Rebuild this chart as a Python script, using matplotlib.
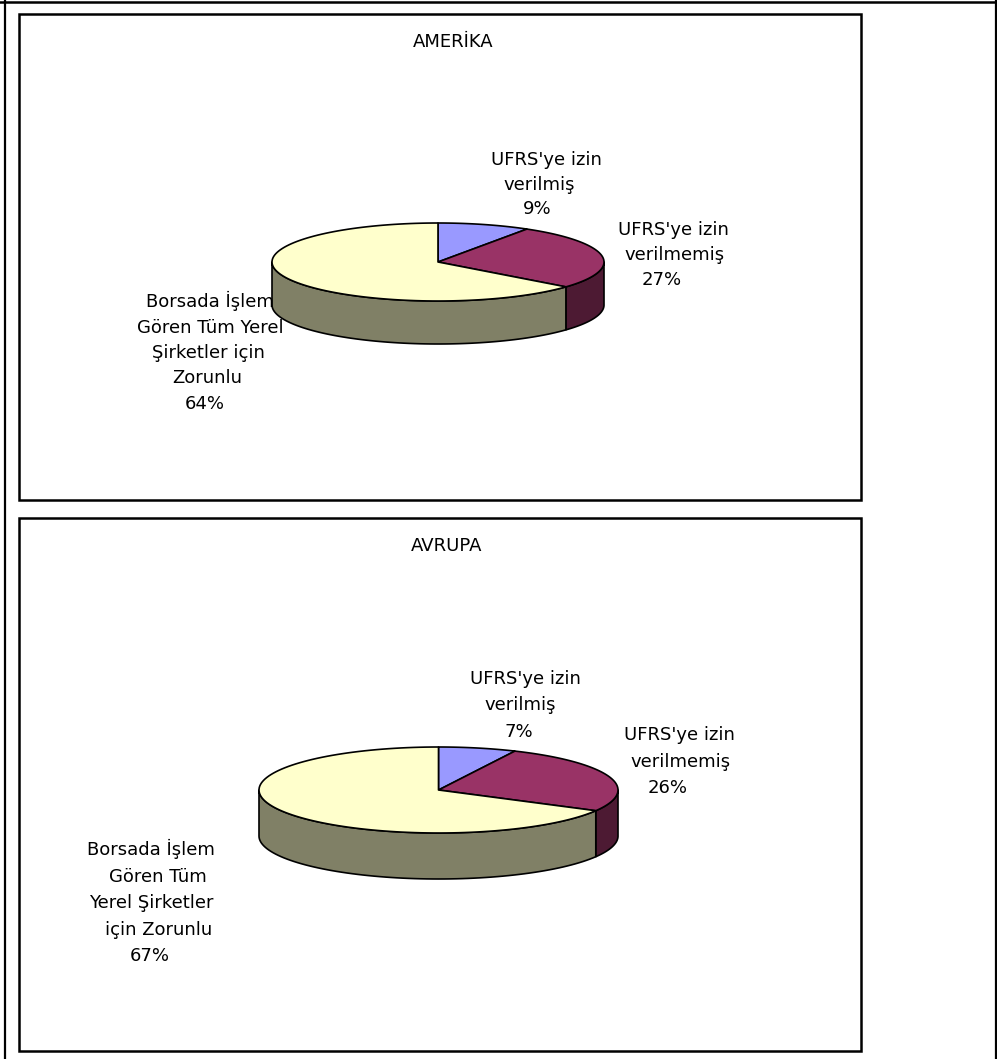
import matplotlib

matplotlib.use("Agg")
import matplotlib.pyplot as plt
import numpy as np
from matplotlib.patches import Polygon, Rectangle

# data
categories = [
    "UFRS'ye izin verilmiş",
    "UFRS'ye izin verilmemiş",
    "Borsada İşlem Gören Tüm Yerel Şirketler için Zorunlu",
]
amerika_values = [9, 27, 64]
avrupa_values = [7, 26, 67]
titles = ["AMERİKA", "AVRUPA"]

top_colors = ["#9999FF", "#993366", "#FFFFCC"]
side_colors = ["#4C4C80", "#4D1A33", "#808066"]

FONT = dict(family="DejaVu Sans", fontsize=13, color="black")


def draw_pie(ax, values, cx, cy, rx, ry, depth):
    """Tilted 3D pie, starting at 12 o'clock and going clockwise"""
    fracs = np.array(values) / sum(values)
    bounds = 90 - 360 * np.concatenate([[0], np.cumsum(fracs)])

    # front side walls first
    for i in range(len(values)):
        a0, a1 = bounds[i], bounds[i + 1]
        lo, hi = max(a1, -180), min(a0, 0)
        if hi <= lo:
            continue
        t = np.radians(np.linspace(hi, lo, 80))
        xs = cx + rx * np.cos(t)
        ys = cy - ry * np.sin(t)
        pts = np.concatenate(
            [np.column_stack([xs, ys]), np.column_stack([xs, ys + depth])[::-1]]
        )
        ax.add_patch(
            Polygon(pts, closed=True, facecolor=side_colors[i], edgecolor="black",
                    linewidth=1.2, joinstyle="round")
        )

    # top faces
    for i in range(len(values)):
        a0, a1 = bounds[i], bounds[i + 1]
        t = np.radians(np.linspace(a0, a1, 120))
        pts = np.column_stack([cx + rx * np.cos(t), cy - ry * np.sin(t)])
        pts = np.vstack([[cx, cy], pts])
        ax.add_patch(
            Polygon(pts, closed=True, facecolor=top_colors[i], edgecolor="black",
                    linewidth=1.2, joinstyle="round")
        )


def put_lines(ax, lines, xs, baselines):
    for s, x, y in zip(lines, xs, baselines):
        ax.text(x, y, s, ha="center", va="baseline", **FONT)


fig = plt.figure(figsize=(9.97, 10.59), dpi=100)
ax = fig.add_axes([0, 0, 1, 1])
ax.set_xlim(0, 997)
ax.set_ylim(1059, 0)
ax.axis("off")

# outer frame (open at the bottom)
ax.plot([4.5, 4.5], [0, 1059], color="black", linewidth=1.6)
ax.plot([995.5, 995.5], [0, 1059], color="black", linewidth=1.6)
ax.plot([0, 997], [1.5, 1.5], color="black", linewidth=1.8)

# chart boxes
ax.add_patch(Rectangle((18.5, 14), 842, 486, fill=False, edgecolor="black", linewidth=1.8))
ax.add_patch(Rectangle((18.5, 518), 842, 532.5, fill=False, edgecolor="black", linewidth=1.8))

# AMERİKA
ax.text(453, 47, titles[0], ha="center", va="baseline", **FONT)
draw_pie(ax, amerika_values, 438, 262, 166, 39, 43)
v = amerika_values
put_lines(ax, ["UFRS'ye izin", "verilmiş", f"{v[0]}%"], [546, 539, 537], [165, 190, 214])
put_lines(ax, ["UFRS'ye izin", "verilmemiş", f"{v[1]}%"], [673, 675, 662], [235, 260, 285])
put_lines(
    ax,
    ["Borsada İşlem", "Gören Tüm Yerel", "Şirketler için", "Zorunlu", f"{v[2]}%"],
    [210, 210, 208, 207, 205],
    [307, 333, 358, 383, 409],
)

# AVRUPA
ax.text(447, 551, titles[1], ha="center", va="baseline", **FONT)
draw_pie(ax, avrupa_values, 438.5, 790, 179.5, 43, 46)
v = avrupa_values
put_lines(ax, ["UFRS'ye izin", "verilmiş", f"{v[0]}%"], [525, 520, 519], [684, 710, 737])
put_lines(ax, ["UFRS'ye izin", "verilmemiş", f"{v[1]}%"], [679, 681, 668], [740, 767, 793])
put_lines(
    ax,
    ["Borsada İşlem", "Gören Tüm", "Yerel Şirketler", "için Zorunlu", f"{v[2]}%"],
    [151, 158, 151, 159, 150],
    [855, 882, 908, 935, 961],
)

fig.savefig("out.png", dpi=100)
